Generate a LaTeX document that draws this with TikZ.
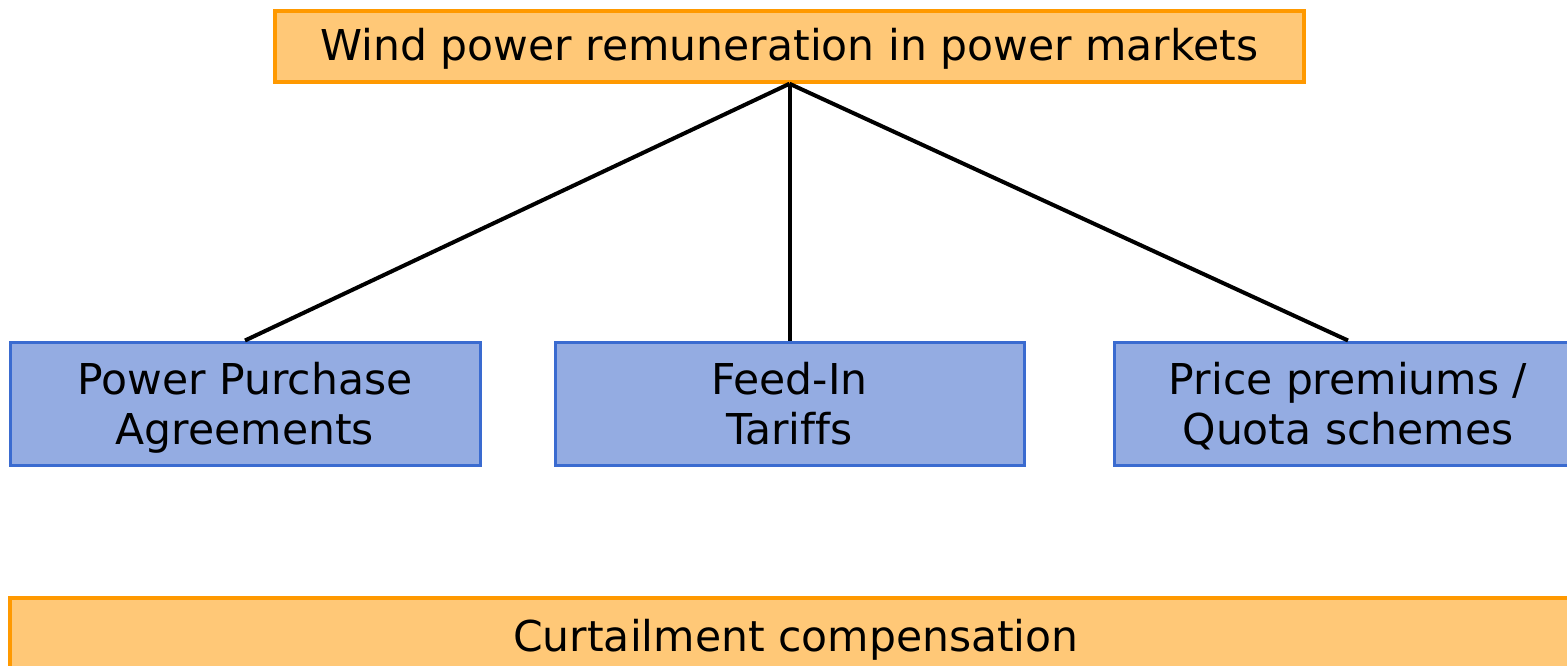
\documentclass[tikz,border=0pt]{standalone}
\usepackage{fontspec}
\setmainfont{DejaVu Sans}[Ligatures=NoCommon]
\definecolor{ofill}{HTML}{FFC877}
\definecolor{odraw}{HTML}{FF9900}
\definecolor{bfill}{HTML}{94ACE2}
\definecolor{bdraw}{HTML}{3A6BD0}
\newcommand{\onel}[2]{\raisebox{#1}[0pt][0pt]{#2}}
\newcommand{\twol}[2]{\raisebox{9.5pt}[0pt][0pt]{\begin{tabular}[t]{@{}c@{}}#1\\#2\end{tabular}}}
\begin{document}
\begin{tikzpicture}[x=1pt,y=-1pt,
  obox/.style={draw=odraw,fill=ofill,line width=3.5pt,inner sep=0pt,font=\fontsize{42.5}{50}\selectfont},
  bbox/.style={draw=bdraw,fill=bfill,line width=3pt,inner sep=0pt,font=\fontsize{42.5}{50}\selectfont},
  conn/.style={line width=4pt,black}]
\useasboundingbox (0,0) rectangle (1567,666);
\clip (0,0) rectangle (1567,666);
\node[obox,minimum width=1029pt,minimum height=71pt] (top) at (789.5,46.5) {\onel{-14.5pt}{Wind power remuneration in power markets}};
\node[bbox,minimum width=470pt,minimum height=123pt] (ppa) at (245,403.5) {\twol{Power Purchase}{Agreements}};
\node[bbox,minimum width=469pt,minimum height=123pt] (fit) at (789.5,403.5) {\twol{Feed-In}{Tariffs}};
\node[bbox,minimum width=468pt,minimum height=123pt] (pp) at (1348,403.5) {\twol{Price premiums /}{Quota schemes}};
\node[obox,minimum width=1572pt,minimum height=76pt] (cur) at (796,636) {\onel{-15pt}{Curtailment compensation}};
\draw[conn] (top.south) -- (ppa.north);
\draw[conn] (top.south) -- (fit.north);
\draw[conn] (top.south) -- (pp.north);
\end{tikzpicture}
\end{document}
